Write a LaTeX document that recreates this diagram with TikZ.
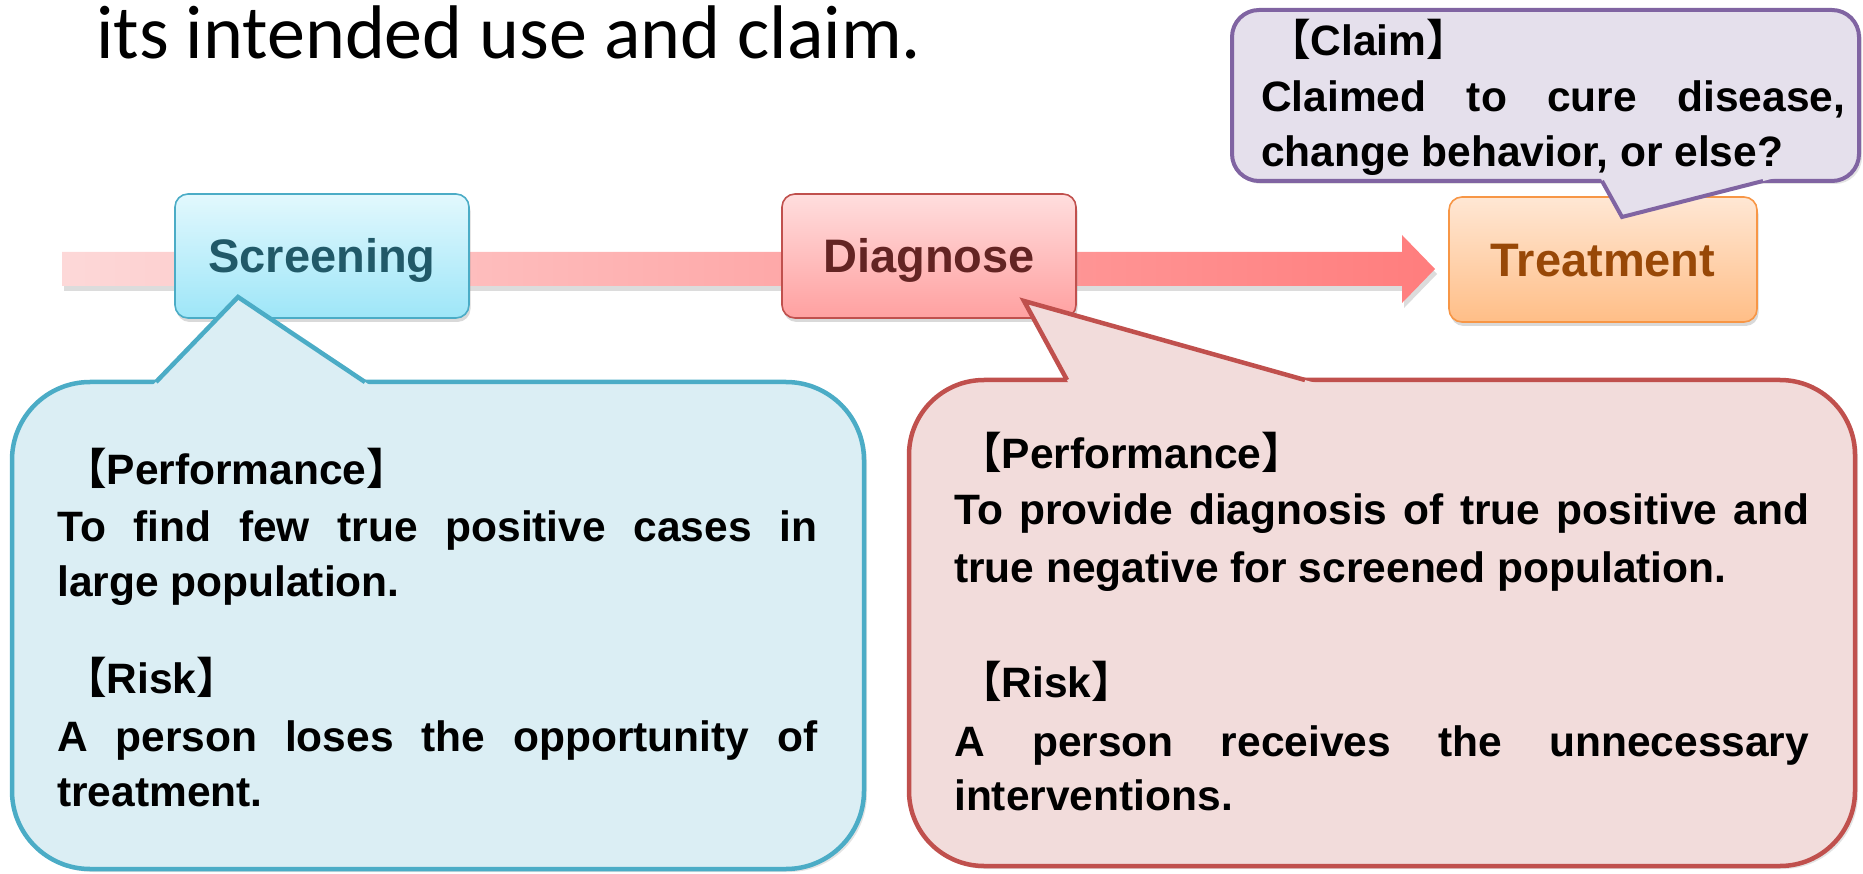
\documentclass[tikz,border=0pt]{standalone}
\usepackage{fontspec}
\setmainfont{Liberation Sans}
\newfontfamily\titlefont{Carlito}
\newfontfamily\cjk{Noto Sans CJK JP}
\usetikzlibrary{shadows,calc}
\definecolor{bluefill}{RGB}{219,238,244}
\definecolor{blueline}{RGB}{75,172,198}
\definecolor{redfill}{RGB}{242,220,219}
\definecolor{redline}{RGB}{192,80,77}
\definecolor{purfill}{RGB}{229,224,236}
\definecolor{purline}{RGB}{128,100,162}
\definecolor{scrtop}{RGB}{226,248,253}
\definecolor{scrbot}{RGB}{158,230,248}
\definecolor{scrtext}{RGB}{33,89,104}
\definecolor{diatop}{RGB}{255,222,222}
\definecolor{diabot}{RGB}{255,160,160}
\definecolor{diatext}{RGB}{99,36,35}
\definecolor{trttop}{RGB}{255,231,212}
\definecolor{trtbot}{RGB}{255,190,135}
\definecolor{trtline}{RGB}{247,150,70}
\definecolor{trttext}{RGB}{152,72,7}
\definecolor{bandleft}{RGB}{253,216,216}
\definecolor{bandright}{RGB}{255,125,125}
\newcommand{\lbr}{{\cjk\bfseries 【}}
\newcommand{\rbr}{{\cjk\bfseries 】}}
\begin{document}
\begin{tikzpicture}[x=1pt,y=-1pt,
  stagebox/.style={rounded corners=13pt, line width=1.6pt, minimum height=124pt, inner sep=0pt,
    text height=40pt, text depth=6pt,
    font=\bfseries\fontsize{47}{56}\selectfont,
    drop shadow={opacity=0.3, shadow xshift=1.5pt, shadow yshift=-4pt}},
  txt/.style={anchor=base west, inner sep=0pt, font=\bfseries\fontsize{42.5}{50}\selectfont},
  bubble/.style={line width=4.5pt, drop shadow={opacity=0.22, shadow xshift=3pt, shadow yshift=-3pt}},
]
\useasboundingbox (0,0) rectangle (1863,874);

% title
\node[anchor=base west, inner sep=0pt, font=\titlefont\fontsize{76}{90}\selectfont] (title) at (96,59) {its intended use and claim.};

% band arrow
\coordinate (bs) at (62,269);
\coordinate (be) at (1435,269);
\path[left color=bandleft, right color=bandright, drop shadow={opacity=0.28, shadow xshift=2pt, shadow yshift=-5pt}]
  ($(bs)+(0,-17)$) -- ($(be)+(-33,-17)$) -- ($(be)+(-33,-34)$) -- (be) -- ($(be)+(-33,34)$) -- ($(be)+(-33,17)$) -- ($(bs)+(0,17)$) -- cycle;

% stage boxes
\node[stagebox, top color=scrtop, bottom color=scrbot, draw=blueline, text=scrtext, minimum width=294pt] (scr) at (322,256) {Screening};
\node[stagebox, top color=diatop, bottom color=diabot, draw=redline, text=diatext, minimum width=294pt] (dia) at (929,256) {Diagnose};
\node[stagebox, top color=trttop, bottom color=trtbot, draw=trtline, text=trttext, minimum width=308pt, minimum height=125pt] (trt) at (1603,259.5) {Treatment};

% blue callout
\path[bubble, fill=bluefill, draw=blueline, rounded corners=78pt] (12,382) rectangle (864,869);
\fill[bluefill] (152,386) -- (238,297) -- (371,386) -- cycle;
\draw[blueline, line width=4.5pt, line join=miter] (156,382) -- (238,297) -- (365,382);

% red callout
\path[bubble, fill=redfill, draw=redline, rounded corners=75pt] (909,380) rectangle (1855,866);
\fill[redfill] (1069,384) -- (1024,301) -- (1319,384) -- cycle;
\draw[redline, line width=4.5pt, line join=miter] (1067,380) -- (1024,301) -- (1305,380);

% claim callout
\path[bubble, line width=4pt, fill=purfill, draw=purline, rounded corners=27pt] (1232,10) rectangle (1859,181);
\fill[purfill] (1600,177) -- (1622,217) -- (1779,177) -- cycle;
\draw[purline, line width=4pt, line join=miter] (1602,181) -- (1622,217) -- (1763,181);

% claim text
\node[txt] (c1) at (1268,56) {\lbr Claim\rbr};
\node[txt] (c2) at (1261,112) {\makebox[584pt][s]{Claimed to cure disease,}};
\node[txt] (c3) at (1261,167) {change behavior, or else?};

% blue text
\node[txt] (b1) at (64,484) {\lbr Performance\rbr};
\node[txt] (b2) at (57,541) {\makebox[760pt][s]{To find few true positive cases in}};
\node[txt] (b3) at (57,596) {large population.};
\node[txt] (b4) at (64,693) {\lbr Risk\rbr};
\node[txt] (b5) at (57,751) {\makebox[760pt][s]{A person loses the opportunity of}};
\node[txt] (b6) at (57,806) {treatment.};

% red text
\node[txt] (r1) at (959,468) {\lbr Performance\rbr};
\node[txt] (r2) at (954,524) {\makebox[855pt][s]{To provide diagnosis of true positive and}};
\node[txt] (r3) at (954,582) {true negative for screened population.};
\node[txt] (r4) at (959,697) {\lbr Risk\rbr};
\node[txt] (r5) at (954,756) {\makebox[855pt][s]{A person receives the unnecessary}};
\node[txt] (r6) at (954,810) {interventions.};
\end{tikzpicture}
\end{document}
